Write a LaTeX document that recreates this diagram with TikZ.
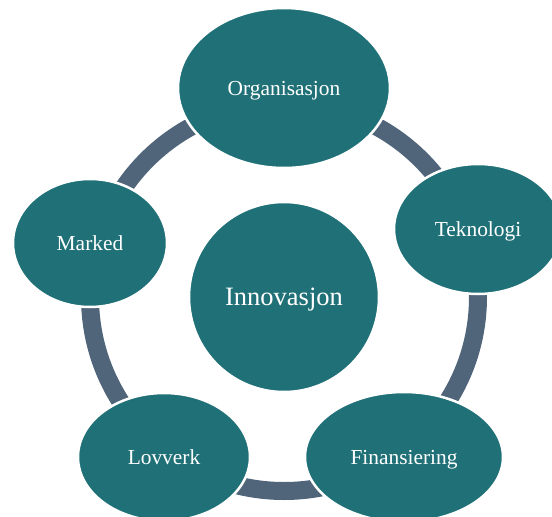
\documentclass[tikz,border=0pt]{standalone}
\usepackage{fontspec}
\setmainfont{Liberation Serif}
\usetikzlibrary{shapes.geometric}
\definecolor{cycleteal}{RGB}{32,113,119}
\definecolor{ringgray}{RGB}{80,101,122}
\tikzset{
  cyclefont/.style={font=\fontsize{21.4}{24}\selectfont, text=white},
  cyclenode/.style={ellipse, fill=cycleteal, draw=white, line width=2.5pt, inner sep=0pt, text depth=0pt, cyclefont},
  hubnode/.style={cyclenode, font=\fontsize{26.5}{30}\selectfont},
  cyclering/.style={draw=ringgray, line width=18pt},
}

\begin{document}
\begin{tikzpicture}[x=1pt, y=-1pt]
	\useasboundingbox (0,0) rectangle (552,517);

	% Centre node
	\node[hubnode, minimum width=190pt, minimum height=190pt] (hub) at (284,297) {Innovasjon};

	% Ring round the centre
	\draw[cyclering] (hub.center) circle[radius=194pt];

	% Outer nodes, clockwise from the top
	\node[cyclenode, minimum width=212pt, minimum height=160pt] (org) at (284,88) {Organisasjon};
	\node[cyclenode, minimum width=168pt, minimum height=130pt] (tek) at (478,229) {Teknologi};
	\node[cyclenode, minimum width=198pt, minimum height=130pt] (fin) at (404,457) {Finansiering};
	\node[cyclenode, minimum width=172pt, minimum height=128pt] (lov) at (164,457) {Lovverk};
	\node[cyclenode, minimum width=154pt, minimum height=128pt] (mar) at (90,243) {Marked};
\end{tikzpicture}
\end{document}
